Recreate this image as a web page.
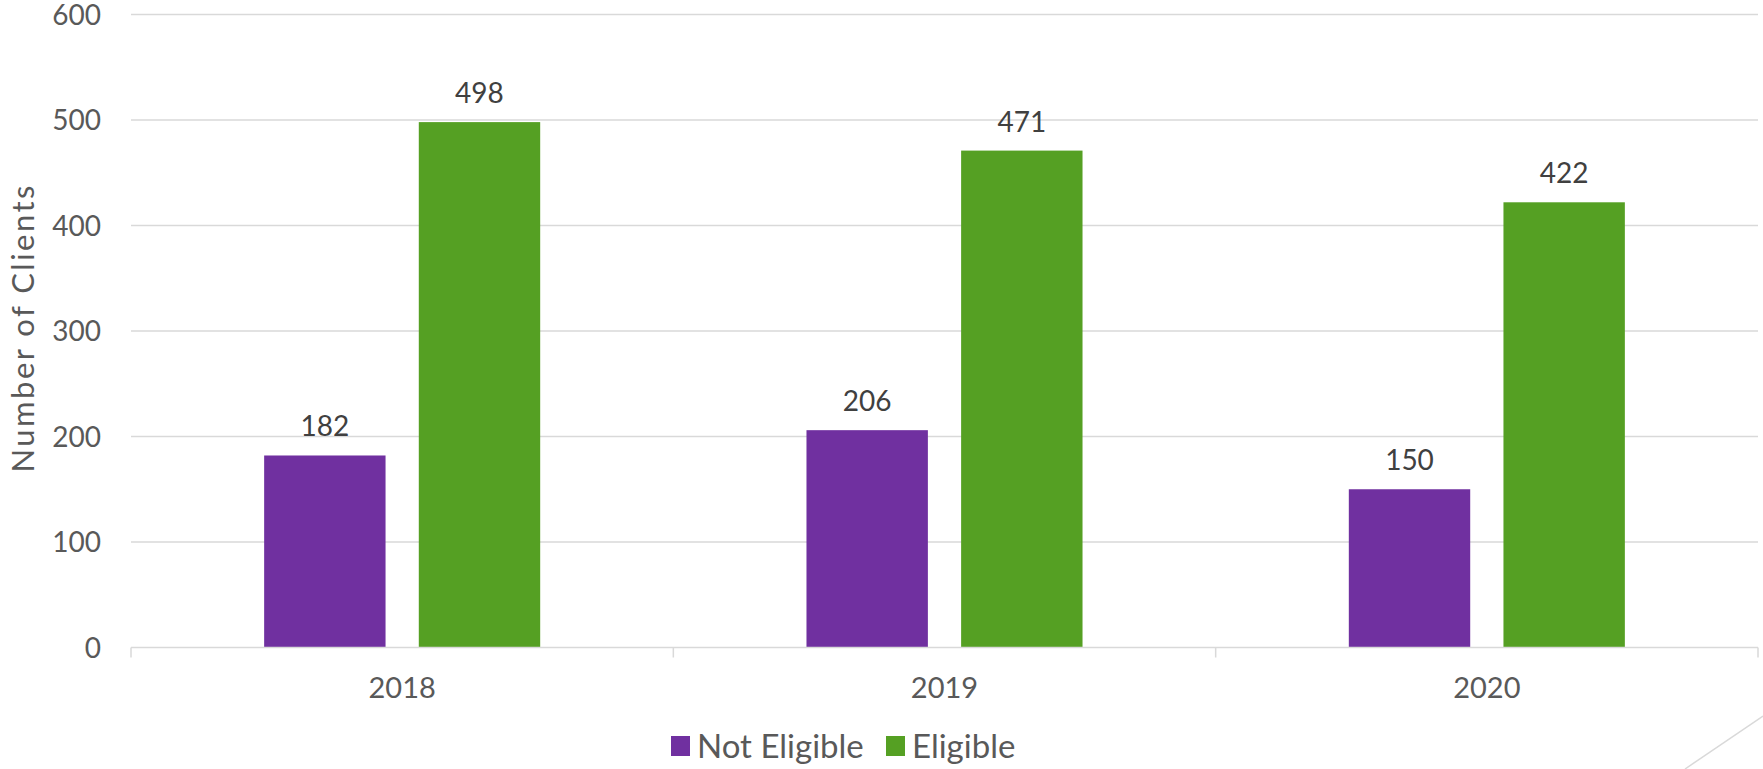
<!DOCTYPE html>
<html>
<head>
<meta charset="utf-8">
<script src="https://cdn.jsdelivr.net/npm/d3@7"></script>
<style>
  html, body { margin: 0; padding: 0; background: #fff; }
  svg { display: block; font-family: Lato, "Liberation Sans", sans-serif; }
</style>
</head>
<body>
<div id="chart"></div>
<script>
"use strict";

const years = ["2018", "2019", "2020"];
const seriesNames = ["Not Eligible", "Eligible"];
const notEligible = [182, 206, 150];
const eligible = [498, 471, 422];
const yTicks = [0, 100, 200, 300, 400, 500, 600];

const COLORS = { "Not Eligible": "#7030A0", "Eligible": "#55A023" };

(function renderChart() {
  const width = 1763;
  const height = 769;
  const margin = { top: 14.5, right: 5, bottom: 121.5, left: 131 };

  const rows = years.map((year, i) => ({
    year,
    values: [
      { key: seriesNames[0], value: notEligible[i] },
      { key: seriesNames[1], value: eligible[i] },
    ],
  }));

  const svg = d3
    .select("#chart")
    .append("svg")
    .attr("width", width)
    .attr("height", height)
    .attr("viewBox", `0 0 ${width} ${height}`);

  const x0 = d3
    .scaleBand()
    .domain(years)
    .range([margin.left, width - margin.right])
    .padding(0);

  const x1 = d3
    .scaleBand()
    .domain(seriesNames)
    .range([0, x0.bandwidth()])
    .paddingInner(0.215)
    .paddingOuter(0.861);

  const y = d3
    .scaleLinear()
    .domain([0, 600])
    .range([height - margin.bottom, margin.top]);

  // gridlines
  svg
    .append("g")
    .selectAll("line.grid")
    .data(yTicks.filter((t) => t > 0))
    .join("line")
    .attr("class", "grid")
    .attr("x1", margin.left)
    .attr("x2", width - margin.right)
    .attr("y1", (d) => y(d))
    .attr("y2", (d) => y(d))
    .attr("stroke", "#d9d9d9")
    .attr("stroke-width", 1.5);

  // y tick labels
  svg
    .append("g")
    .selectAll("text.ytick")
    .data(yTicks)
    .join("text")
    .attr("class", "ytick")
    .attr("x", 101)
    .attr("y", (d) => y(d) + 10)
    .attr("text-anchor", "end")
    .attr("font-size", 28)
    .attr("fill", "#595959")
    .text((d) => d);

  // y axis title
  svg
    .append("text")
    .attr("transform", `translate(34, ${(margin.top + height - margin.bottom) / 2 - 2}) rotate(-90)`)
    .attr("text-anchor", "middle")
    .attr("font-size", 31)
    .attr("textLength", 287)
    .attr("lengthAdjust", "spacing")
    .attr("fill", "#595959")
    .text("Number of Clients");

  // bars
  const groups = svg
    .append("g")
    .selectAll("g.year")
    .data(rows)
    .join("g")
    .attr("class", "year")
    .attr("transform", (d) => `translate(${x0(d.year)},0)`);

  groups
    .selectAll("rect")
    .data((d) => d.values)
    .join("rect")
    .attr("x", (d) => x1(d.key))
    .attr("y", (d) => y(d.value))
    .attr("width", x1.bandwidth())
    .attr("height", (d) => y(0) - y(d.value))
    .attr("fill", (d) => COLORS[d.key]);

  groups
    .selectAll("text.value")
    .data((d) => d.values)
    .join("text")
    .attr("class", "value")
    .attr("x", (d) => x1(d.key) + x1.bandwidth() / 2)
    .attr("y", (d) => y(d.value) - 19)
    .attr("text-anchor", "middle")
    .attr("font-size", 28)
    .attr("fill", "#404040")
    .text((d) => d.value);

  // x axis line + ticks
  const axisY = y(0);
  svg
    .append("line")
    .attr("x1", margin.left)
    .attr("x2", width - margin.right)
    .attr("y1", axisY)
    .attr("y2", axisY)
    .attr("stroke", "#d9d9d9")
    .attr("stroke-width", 1.5);

  const boundaries = years.map((yr) => x0(yr)).concat([x0(years[years.length - 1]) + x0.bandwidth()]);
  svg
    .append("g")
    .selectAll("line.xtick")
    .data(boundaries)
    .join("line")
    .attr("class", "xtick")
    .attr("x1", (d) => d)
    .attr("x2", (d) => d)
    .attr("y1", axisY)
    .attr("y2", axisY + 10)
    .attr("stroke", "#d9d9d9")
    .attr("stroke-width", 1.5);

  svg
    .append("g")
    .selectAll("text.xlabel")
    .data(years)
    .join("text")
    .attr("class", "xlabel")
    .attr("x", (d) => x0(d) + x0.bandwidth() / 2)
    .attr("y", 698)
    .attr("text-anchor", "middle")
    .attr("font-size", 29)
    .attr("fill", "#595959")
    .text((d) => d);

  // legend
  const legendItems = [
    { key: seriesNames[0], x: 671 },
    { key: seriesNames[1], x: 886 },
  ];
  const legend = svg
    .append("g")
    .selectAll("g.legend")
    .data(legendItems)
    .join("g")
    .attr("class", "legend")
    .attr("transform", (d) => `translate(${d.x}, 736)`);

  legend
    .append("rect")
    .attr("width", 19)
    .attr("height", 20)
    .attr("fill", (d) => COLORS[d.key]);

  legend
    .append("text")
    .attr("x", 26)
    .attr("y", 22)
    .attr("font-size", 33)
    .attr("fill", "#595959")
    .text((d) => d.key);

  // decorative slide corner line
  svg
    .append("line")
    .attr("x1", 1685)
    .attr("y1", 769)
    .attr("x2", 1763)
    .attr("y2", 716)
    .attr("stroke", "#d9d9d9")
    .attr("stroke-width", 1.5);
})();
</script>
</body>
</html>
